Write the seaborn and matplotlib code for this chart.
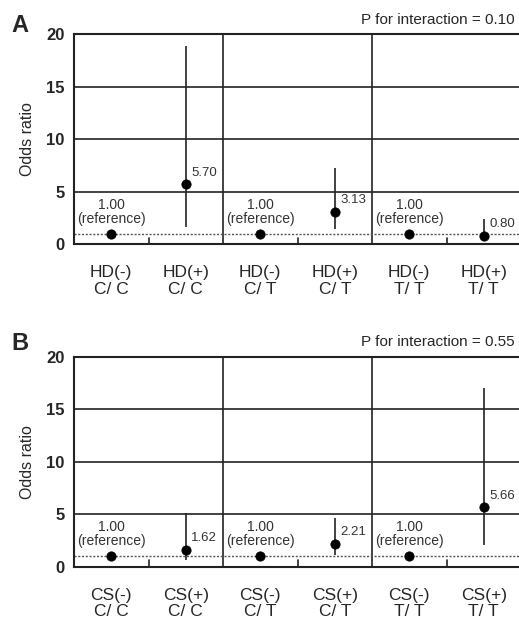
import numpy as np
import pandas as pd
import matplotlib
matplotlib.use("Agg")
import matplotlib.pyplot as plt
import seaborn as sns

# data
pos = [0.5, 1.5, 2.5, 3.5, 4.5, 5.5]
labels_a = ["HD(-)\nC/ C", "HD(+)\nC/ C", "HD(-)\nC/ T", "HD(+)\nC/ T", "HD(-)\nT/ T", "HD(+)\nT/ T"]
labels_b = ["CS(-)\nC/ C", "CS(+)\nC/ C", "CS(-)\nC/ T", "CS(+)\nC/ T", "CS(-)\nT/ T", "CS(+)\nT/ T"]
or_a = [1.00, 5.70, 1.00, 3.13, 1.00, 0.80]
lo_a = [None, 1.65, None, 1.45, None, 0.30]
hi_a = [None, 18.9, None, 7.3, None, 2.45]
or_b = [1.00, 1.62, 1.00, 2.21, 1.00, 5.66]
lo_b = [None, 0.64, None, 1.10, None, 2.05]
hi_b = [None, 5.10, None, 4.60, None, 17.0]
p_a = "P for interaction = 0.10"
p_b = "P for interaction = 0.55"

sns.set_theme(style="white")
plt.rcParams["font.family"] = ["Liberation Sans", "DejaVu Sans"]

fig = plt.figure(figsize=(5.19, 6.22), dpi=100)
ax_a = fig.add_axes([0.1426, 0.607, 0.8574, 0.3384])
ax_b = fig.add_axes([0.1426, 0.0889, 0.8574, 0.3376])


def panel(ax, ors, los, his, labels, ptext, letter, ly):
    df = pd.DataFrame({"x": pos, "y": ors})
    for yv in [5, 10, 15]:
        ax.axhline(yv, color="#222222", lw=1.2, zorder=1)
    for xv in [2, 4]:
        ax.axvline(xv, color="#222222", lw=1.2, zorder=1)
    ax.axhline(1, color="#555555", lw=1.0, ls=(0, (1.5, 1.2)), zorder=1)
    for x, lo, hi in zip(pos, los, his):
        if lo is not None:
            ax.vlines(x, lo, hi, color="#222222", lw=1.2, zorder=2)
    sns.scatterplot(data=df, x="x", y="y", ax=ax, color="black", s=45,
                    edgecolor="black", zorder=3, legend=False)
    for x, v, lo in zip(pos, ors, los):
        if lo is None:
            ax.annotate("1.00\n(reference)", (x, v), xytext=(0, 6),
                        textcoords="offset points", ha="center", va="bottom",
                        fontsize=10, color="#333333", linespacing=0.95)
        else:
            ax.annotate(f"{v:.2f}", (x, v), xytext=(4, 4),
                        textcoords="offset points", ha="left", va="bottom",
                        fontsize=9.5, color="#333333")
    ax.set_xlim(0, 5.973)
    ax.set_ylim(0, 20)
    ax.set_yticks([0, 5, 10, 15, 20])
    ax.set_yticklabels(["0", "5", "10", "15", "20"], fontweight="bold", fontsize=12)
    ax.set_xticks(pos)
    ax.set_xticklabels(labels, fontsize=12.5, linespacing=1.15)
    ax.tick_params(axis="x", length=0, pad=15)
    ax.tick_params(axis="y", length=0, pad=7)
    for xt in [1, 3, 5]:
        ax.plot([xt, xt], [0, 0.6], color="#222222", lw=1.2, zorder=1)
    ax.set_xlabel("")
    ax.set_ylabel("Odds ratio", fontsize=11.5, labelpad=8)
    for s in ["left", "top", "bottom"]:
        ax.spines[s].set_color("#222222")
        ax.spines[s].set_linewidth(1.5)
    ax.spines["right"].set_visible(False)
    ax.text(0.99, 1.035, ptext, transform=ax.transAxes, ha="right", va="bottom",
            fontsize=11)
    fig.text(0.022, ly, letter, ha="left", va="bottom",
             fontsize=17, fontweight="bold")


panel(ax_a, or_a, lo_a, hi_a, labels_a, p_a, "A", 0.940)
panel(ax_b, or_b, lo_b, hi_b, labels_b, p_b, "B", 0.429)

fig.savefig("out.png", dpi=100)
